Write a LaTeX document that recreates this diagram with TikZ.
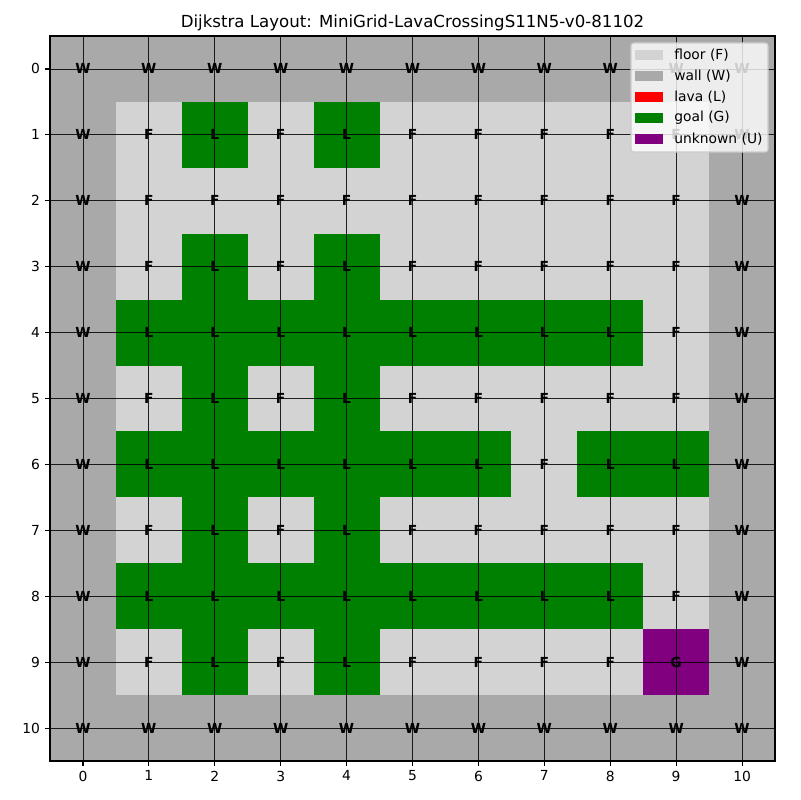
\documentclass[tikz,border=0pt]{standalone}
\usepackage{fontspec}
\setmainfont{DejaVu Sans}
\definecolor{cF}{RGB}{211,211,211}
\definecolor{cW}{RGB}{169,169,169}
\definecolor{cL}{RGB}{0,128,0}
\definecolor{cG}{RGB}{128,0,128}
\definecolor{lavared}{RGB}{255,0,0}
\definecolor{legedge}{RGB}{204,204,204}
\tikzset{
  lab/.style={font=\fontsize{10}{12}\selectfont\bfseries, text=black, inner sep=0pt},
  tick/.style={font=\fontsize{10}{12}\selectfont, inner sep=0pt},
  gridline/.style={black, line width=0.6pt, opacity=0.85},
  legtext/.style={font=\fontsize{10}{12}\selectfont, anchor=west, inner sep=0pt},
}
\begin{document}
\begin{tikzpicture}[x=0.01in,y=-0.01in]
\useasboundingbox (0,0) rectangle (800,800);
\pgfmathsetmacro{\cs}{725/11}
% cells
\foreach \r/\row in {
 0/{W,W,W,W,W,W,W,W,W,W,W},
 1/{W,F,L,F,L,F,F,F,F,F,W},
 2/{W,F,F,F,F,F,F,F,F,F,W},
 3/{W,F,L,F,L,F,F,F,F,F,W},
 4/{W,L,L,L,L,L,L,L,L,F,W},
 5/{W,F,L,F,L,F,F,F,F,F,W},
 6/{W,L,L,L,L,L,L,F,L,L,W},
 7/{W,F,L,F,L,F,F,F,F,F,W},
 8/{W,L,L,L,L,L,L,L,L,F,W},
 9/{W,F,L,F,L,F,F,F,F,G,W},
 10/{W,W,W,W,W,W,W,W,W,W,W}} {
  \foreach \t [count=\c from 0] in \row {
    \fill[fill=c\t] ({50+\c*\cs},{36+\r*\cs}) rectangle ++(\cs+0.3,\cs+0.3);
  }
}
% grid lines
\foreach \i in {0,...,10} {
  \draw[gridline] ({50+(\i+0.5)*\cs},36) -- ({50+(\i+0.5)*\cs},761);
  \draw[gridline] (50,{36+(\i+0.5)*\cs}) -- (775,{36+(\i+0.5)*\cs});
}
% labels
\foreach \r/\row in {
 0/{W,W,W,W,W,W,W,W,W,W,W},
 1/{W,F,L,F,L,F,F,F,F,F,W},
 2/{W,F,F,F,F,F,F,F,F,F,W},
 3/{W,F,L,F,L,F,F,F,F,F,W},
 4/{W,L,L,L,L,L,L,L,L,F,W},
 5/{W,F,L,F,L,F,F,F,F,F,W},
 6/{W,L,L,L,L,L,L,F,L,L,W},
 7/{W,F,L,F,L,F,F,F,F,F,W},
 8/{W,L,L,L,L,L,L,L,L,F,W},
 9/{W,F,L,F,L,F,F,F,F,G,W},
 10/{W,W,W,W,W,W,W,W,W,W,W}} {
  \foreach \t [count=\c from 0] in \row {
    \node[lab] (lab-\r-\c) at ({50+(\c+0.5)*\cs},{36+(\r+0.5)*\cs}) {\t};
  }
}
% frame
\draw[black, line width=0.8pt] (50,36) rectangle (775,761);
% ticks
\foreach \i in {0,...,10} {
  \draw[black, line width=0.8pt] ({50+(\i+0.5)*\cs},761) -- ++(0,4.86);
  \node[tick, anchor=north] (xt-\i) at ({50+(\i+0.5)*\cs},770.5) {\i};
  \draw[black, line width=0.8pt] (50,{36+(\i+0.5)*\cs}) -- ++(-4.86,0);
  \node[tick, anchor=east] (yt-\i) at (40.3,{36+(\i+0.5)*\cs}) {\i};
}
% title
\node[font=\fontsize{12}{14}\selectfont, anchor=base, inner sep=0pt] (title) at (412.5,27.7) {Dijkstra Layout: MiniGrid-LavaCrossingS11N5-v0-81102};
% legend
\fill[white, opacity=0.8, rounded corners=2pt] (631,43) rectangle (768,152);
\draw[legedge, line width=0.8pt, rounded corners=2pt] (631,43) rectangle (768,152);
\foreach \y/\col/\txt [count=\k] in {55/cF/floor (F), 76/cW/wall (W), 97/lavared/lava (L), 118/cL/goal (G), 139/cG/unknown (U)} {
  \fill[fill=\col] (635,\y-4.9) rectangle (663,\y+4.9);
  \node[legtext] (leg-\k) at (674,\y) {\txt};
}
\end{tikzpicture}
\end{document}
